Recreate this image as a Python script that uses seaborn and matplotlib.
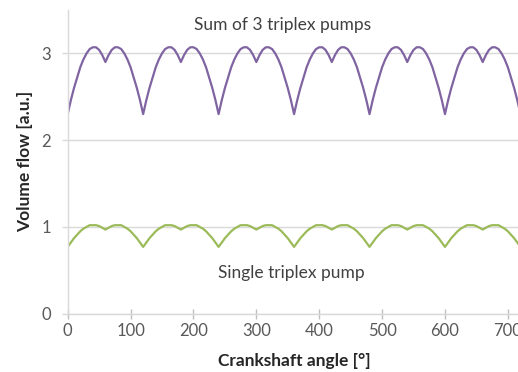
import seaborn as sns
import matplotlib.pyplot as plt
import numpy as np
import pandas as pd

# one 120 deg period, read every 5 deg (0..115), the pattern repeats over 720 deg
period_deg = 120
step_deg = 5
single_period = [0.77, 0.82, 0.87, 0.91, 0.95, 0.98, 1.00, 1.02, 1.02, 1.02, 1.01, 0.99,
                 0.97, 0.99, 1.01, 1.02, 1.02, 1.02, 1.00, 0.98, 0.95, 0.91, 0.87, 0.82]
triple_period = [2.30, 2.46, 2.60, 2.72, 2.84, 2.93, 3.00, 3.05, 3.07, 3.07, 3.04, 2.98,
                 2.90, 2.98, 3.04, 3.07, 3.07, 3.05, 3.00, 2.93, 2.84, 2.72, 2.60, 2.46]
n_periods = 6

single_label = "Single triplex pump"
triple_label = "Sum of 3 triplex pumps"
xticks = [0, 100, 200, 300, 400, 500, 600, 700]
yticks = [0, 1, 2, 3]

angle = np.arange(0, period_deg * n_periods + step_deg, step_deg)
single = np.append(np.tile(single_period, n_periods), single_period[0])
triple = np.append(np.tile(triple_period, n_periods), triple_period[0])
df = pd.DataFrame({"angle": angle, "single": single, "triple": triple})

sns.set_theme(style="white")
plt.rcParams['font.family'] = ['Lato', 'DejaVu Sans']

fig = plt.figure(figsize=(5.18, 3.72), dpi=100)
ax = fig.add_axes([0.1307, 0.1567, 0.874, 0.8165])

sns.lineplot(data=df, x="angle", y="triple", ax=ax, color="#8064A2", linewidth=1.6)
sns.lineplot(data=df, x="angle", y="single", ax=ax, color="#9BBB59", linewidth=1.6)

ax.set_xlim(0, 720)
ax.set_ylim(0, 3.5)
ax.set_xticks(xticks)
ax.set_yticks(yticks)
ax.yaxis.grid(True, color="#d9d9d9", linewidth=1)
ax.set_axisbelow(True)

for s in ["top", "right"]:
    ax.spines[s].set_visible(False)
ax.spines["left"].set_color("#d9d9d9")
ax.spines["bottom"].set_color("#d9d9d9")
ax.spines["left"].set_linewidth(1)
ax.spines["bottom"].set_linewidth(1)

ax.tick_params(axis="x", direction="inout", length=7, width=1, color="#bfbfbf",
               labelsize=12, labelcolor="#595959", pad=3, bottom=True)
ax.tick_params(axis="y", direction="out", length=4, width=1, color="#d9d9d9",
               labelsize=12, labelcolor="#595959", pad=8, left=True)

ax.set_xlabel("Crankshaft angle [°]", fontsize=12.5, fontweight="bold", color="#262626", labelpad=10)
ax.set_ylabel("Volume flow [a.u.]", fontsize=12.5, fontweight="bold", color="#262626", labelpad=6)

ax.text(342, 3.33, triple_label, ha="center", va="center", fontsize=12.5, color="#404040")
ax.text(355, 0.465, single_label, ha="center", va="center", fontsize=12.5, color="#404040")

fig.savefig("out.png", dpi=100)
